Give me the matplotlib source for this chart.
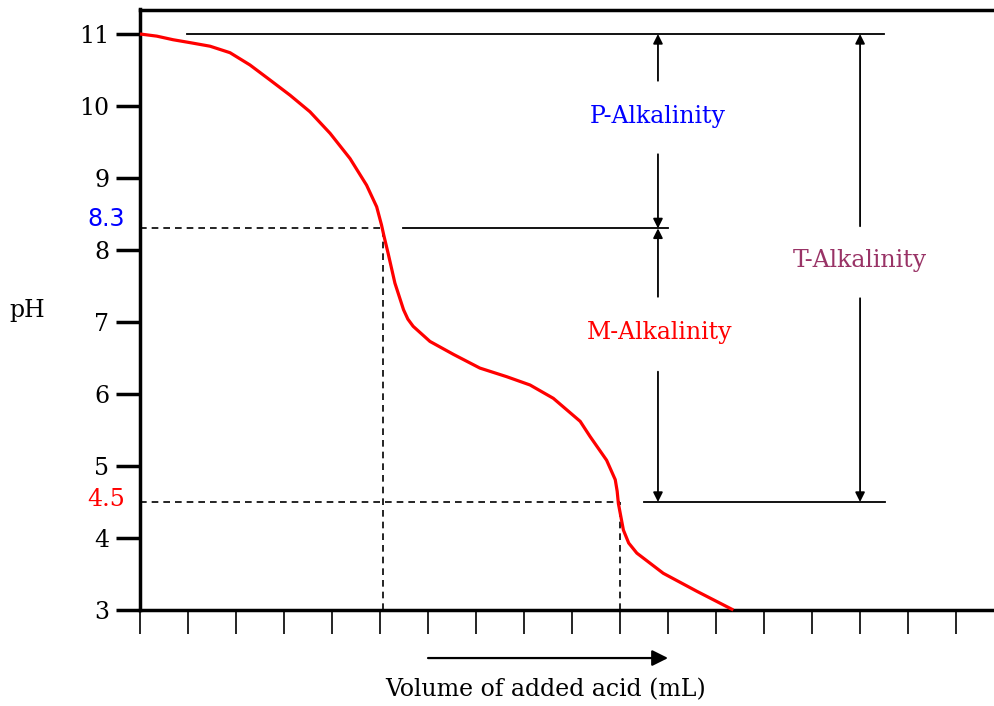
import matplotlib
matplotlib.use("Agg")
import matplotlib.pyplot as plt

# ---- data ----
volume = [0.0, 0.35, 0.69, 1.04, 1.46, 1.875, 2.29, 2.71, 3.125, 3.54, 3.96, 4.375, 4.72,
          4.93, 5.03, 5.08, 5.17, 5.31, 5.49, 5.58, 5.69, 6.04, 6.53, 7.08, 7.64, 8.125,
          8.61, 8.89, 9.17, 9.375, 9.72, 9.90, 9.94, 9.965, 10.07, 10.18, 10.35, 10.90,
          11.6, 12.36]
ph = [11.0, 10.97, 10.92, 10.88, 10.83, 10.74, 10.57, 10.36, 10.15, 9.92, 9.62, 9.27, 8.90,
      8.60, 8.35, 8.2, 7.95, 7.54, 7.17, 7.04, 6.94, 6.73, 6.55, 6.36, 6.24, 6.125,
      5.94, 5.78, 5.62, 5.41, 5.08, 4.81, 4.65, 4.48, 4.11, 3.93, 3.79, 3.51,
      3.26, 3.0]
ph_ticks = [3, 4, 5, 6, 7, 8, 9, 10, 11]
vol_ticks = list(range(18))
p_end_ph = 8.3
m_end_ph = 4.5
start_ph = 11.0
p_end_vol = 5.07
m_end_vol = 10.0

serif = ["DejaVu Serif"]
fs = 17

fig = plt.figure(figsize=(9.94, 7.06), dpi=100)
ax = fig.add_axes([140 / 994, 1 - 610 / 706, 854 / 994, 600.5 / 706])
ax.set_xlim(0, 17.79)
ax.set_ylim(3, 11.34)

for s in ["left", "bottom", "top"]:
    ax.spines[s].set_linewidth(2.5)
ax.spines["right"].set_visible(False)

ax.set_yticks(ph_ticks)
ax.set_yticklabels([str(t) for t in ph_ticks], family=serif, fontsize=fs)
ax.tick_params(axis="y", direction="out", length=17, width=2.5, pad=5)
ax.set_xticks(vol_ticks)
ax.set_xticklabels([])
ax.tick_params(axis="x", direction="out", length=17, width=1.2)

# titration curve
ax.plot(volume, ph, color="#ff0000", lw=2.3, solid_capstyle="butt",
        solid_joinstyle="round", clip_on=False, zorder=5)

# dashed guide lines
dash = dict(color="black", lw=1.2, linestyle=(0, (4, 3)))
ax.plot([0, p_end_vol], [p_end_ph, p_end_ph], **dash)
ax.plot([p_end_vol, p_end_vol], [3, p_end_ph], **dash)
ax.plot([0, m_end_vol], [m_end_ph, m_end_ph], **dash)
ax.plot([m_end_vol, m_end_vol], [3, m_end_ph], **dash)

# solid reference lines
solid = dict(color="black", lw=1.3)
ax.plot([0.98, 15.5], [start_ph, start_ph], **solid)
ax.plot([5.48, 11.0], [p_end_ph, p_end_ph], **solid)
ax.plot([10.49, 15.52], [m_end_ph, m_end_ph], **solid)

def arrow(x, y0, y1):
    ax.annotate("", xy=(x, y1), xytext=(x, y0),
                arrowprops=dict(arrowstyle="-|>", color="black", lw=1.3,
                                mutation_scale=14, shrinkA=0, shrinkB=0))

xa = 10.79
arrow(xa, 10.35, start_ph)
arrow(xa, 9.33, p_end_ph)
arrow(xa, 7.35, p_end_ph)
arrow(xa, 6.31, m_end_ph)
xt = 15.0
arrow(xt, 8.33, start_ph)
arrow(xt, 7.33, m_end_ph)

ax.text(xa, 9.86, "P-Alkalinity", color="#0000ff", family=serif, fontsize=fs,
        ha="center", va="center")
ax.text(xa + 0.04, 6.86, "M-Alkalinity", color="#ff0000", family=serif, fontsize=fs,
        ha="center", va="center")
ax.text(xt, 7.86, "T-Alkalinity", color="#993366", family=serif, fontsize=fs,
        ha="center", va="center")

# endpoint labels on the y axis
ytr = ax.get_yaxis_transform()
ax.text(-0.0176, 8.43, "8.3", color="#0000ff", family=["DejaVu Sans"], fontsize=fs,
        ha="right", va="center", transform=ytr)
ax.text(-0.0176, 4.53, "4.5", color="#ff0000", family=serif, fontsize=fs,
        ha="right", va="center", transform=ytr)

# pH label
fig.text(27.5 / 994, 1 - 310 / 706, "pH", family=serif, fontsize=fs, ha="center", va="center")

# x-axis arrow and label
xtr = ax.get_xaxis_transform()
ax.annotate("", xy=(11.0, -0.08), xytext=(6.0, -0.08), xycoords=xtr, textcoords=xtr,
            annotation_clip=False,
            arrowprops=dict(arrowstyle="-|>", color="black", lw=1.6,
                            mutation_scale=24, shrinkA=0, shrinkB=0))
ax.text(8.44, -0.133, "Volume of added acid (mL)", family=serif, fontsize=fs,
        ha="center", va="center", transform=xtr)

fig.savefig("out.png", dpi=100)
